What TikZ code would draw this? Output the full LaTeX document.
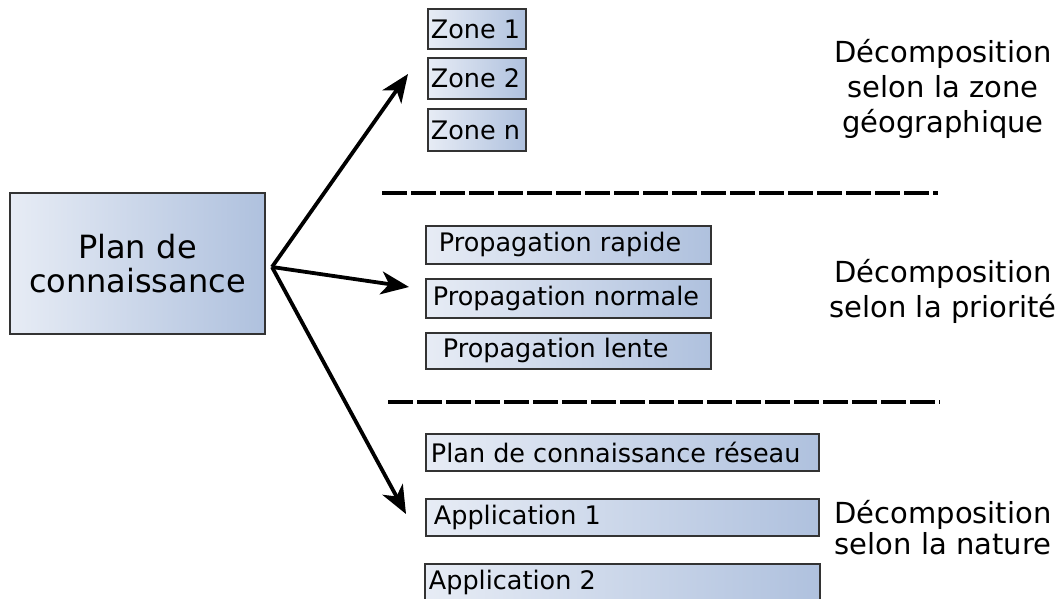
\documentclass[tikz,border=0pt]{standalone}
\usepackage{fontspec}
\setmainfont{DejaVu Sans}
\usepackage{tikz}
\usetikzlibrary{arrows.meta}

\definecolor{fondclair}{HTML}{E7ECF5}
\definecolor{fondbleu}{HTML}{AFC1DE}
\definecolor{bord}{HTML}{333333}

\begin{document}
\begin{tikzpicture}[x=1pt,y=-1pt,
		boite/.style={draw=bord,line width=1.8pt,left color=fondclair,right color=fondbleu,
			anchor=north west,align=flush left,inner ysep=0pt,font=\fontsize{25.5}{30}\selectfont},
		cote/.style={align=center,font=\fontsize{29}{35}\selectfont},
		fleche/.style={line width=3.8pt,-{Stealth[length=28pt,width=23pt,inset=8pt]}},
		tirets/.style={line width=3.8pt,dash pattern=on 25pt off 4pt}]
			%\draw [help lines] (0,0) grid (1063,599);
			\useasboundingbox (0,0) rectangle (1063,599);
			\clip (0,0) rectangle (1063,599);
			% bloc principal
			\node[boite,text width=235pt,inner xsep=10pt,minimum height=141pt,align=center,
				font=\fontsize{32}{34}\selectfont] (plan) at (9,192) {Plan de\\connaissance};
			% zones
			\node[boite,text width=92pt,inner xsep=3pt,minimum height=40pt] (zone1) at (427,8) {Zone 1};
			\node[boite,text width=92pt,inner xsep=3pt,minimum height=41pt] (zone2) at (427,57) {Zone 2};
			\node[boite,text width=92pt,inner xsep=3pt,minimum height=42pt] (zonen) at (427,108) {Zone n};
			% priorites
			\node[boite,text width=259pt,inner xsep=13pt,minimum height=38pt] (rapide) at (425,225) {Propagation rapide};
			\node[boite,text width=271pt,inner xsep=7pt,minimum height=39pt] (normale) at (425,278) {Propagation normale};
			\node[boite,text width=251pt,inner xsep=17pt,minimum height=36pt] (lente) at (425,332) {Propagation lente};
			% nature
			\node[boite,text width=383pt,inner xsep=5pt,minimum height=37pt] (reseau) at (425,433) {Plan de connaissance réseau};
			\node[boite,text width=377pt,inner xsep=8pt,minimum height=37pt] (app1) at (425,498) {Application 1};
			\node[boite,text width=387pt,inner xsep=4pt,minimum height=38pt] (app2) at (424,563) {Application 2};
			% separations
			\coordinate (sep1a) at (382,193);
			\coordinate (sep1b) at (938,193);
			\coordinate (sep2a) at (388,402);
			\coordinate (sep2b) at (940,402);
			\draw[tirets] (sep1a) -- (sep1b);
			\draw[tirets] (sep2a) -- (sep2b);
			% fleches
			\coordinate (fourche) at (272,267);
			\coordinate (versZone) at (408,74);
			\coordinate (versPrio) at (409,287);
			\coordinate (versNature) at (406,514);
			\draw[fleche] (fourche) -- (versZone);
			\draw[fleche] (fourche) -- (versPrio);
			\draw[fleche] (fourche) -- (versNature);
			% legendes
			\node[cote] (geo) at (943,89) {Décomposition\\selon la zone\\géographique};
			\node[cote] (prio) at (943,291) {Décomposition\\selon la priorité};
			\node[cote,font=\fontsize{29}{31}\selectfont] (nature) at (943,528) {Décomposition\\selon la nature};
		\end{tikzpicture}
\end{document}
